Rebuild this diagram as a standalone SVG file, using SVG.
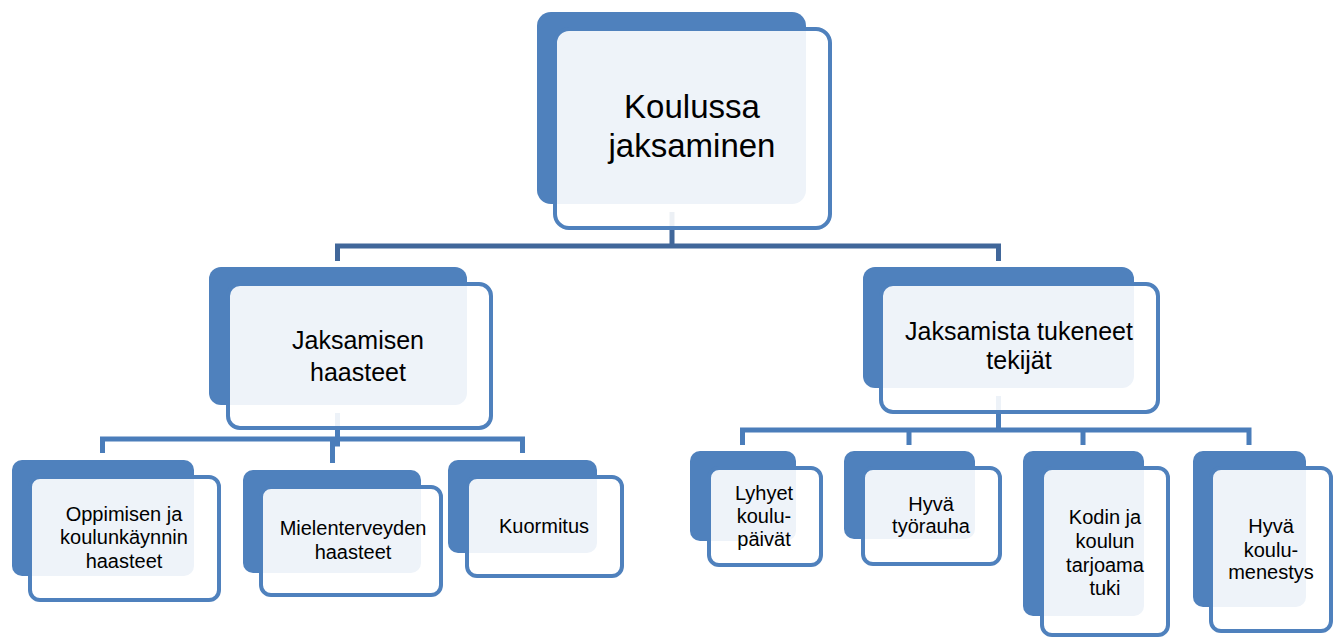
<svg xmlns="http://www.w3.org/2000/svg" width="1339" height="639" viewBox="0 0 1339 639">
<style>
.back{fill:#4F81BD}
.front{fill:#ffffff;fill-opacity:0.9;stroke:#4F81BD;stroke-width:4}
text{font-family:"Liberation Sans",Arial,sans-serif;fill:#000;text-anchor:middle}
.t1{font-size:33px}
.t2{font-size:25px}
.t3{font-size:20px}
.conn{fill:none;stroke:#4A7DBA;stroke-width:5}
.conn0{stroke:#41679A}
</style>
<rect width="1339" height="639" fill="#ffffff"/>
<g id="connectors">
  <path class="conn conn0" d="M672,212 V246 M337.5,261 V246 H998.5 V261"/>
  <path class="conn" d="M337.5,413 V439 M102.5,453 V439 H522.5 V453 M337.5,439 V444 H332.5 V463"/>
  <path class="conn" d="M998.5,396 V430 M742.5,445 V430 H1249 V445 M909,430 V445 M1083,430 V445"/>
</g>
<g id="n-koulussa">
  <rect class="back" x="537" y="12" width="269" height="192" rx="14"/>
  <rect class="front" x="555" y="29" width="275" height="199" rx="14"/>
  <text class="t1" x="692" y="118">Koulussa</text>
  <text class="t1" x="692" y="157">jaksaminen</text>
</g>
<g id="n-haasteet">
  <rect class="back" x="209" y="267" width="258" height="138" rx="12"/>
  <rect class="front" x="228" y="284" width="263" height="144" rx="12"/>
  <text class="t2" x="358" y="349">Jaksamisen</text>
  <text class="t2" x="358" y="381">haasteet</text>
</g>
<g id="n-tukeneet">
  <rect class="back" x="863" y="267" width="271" height="121" rx="12"/>
  <rect class="front" x="881" y="284" width="277" height="128" rx="12"/>
  <text class="t2" x="1019" y="340">Jaksamista tukeneet</text>
  <text class="t2" x="1019" y="369">tekijät</text>
</g>
<g id="n-oppimisen">
  <rect class="back" x="12" y="460" width="182" height="116" rx="10"/>
  <rect class="front" x="30" y="477" width="189" height="123" rx="10"/>
  <text class="t3" x="124" y="521">Oppimisen ja</text>
  <text class="t3" x="124" y="544">koulunkäynnin</text>
  <text class="t3" x="124" y="568">haasteet</text>
</g>
<g id="n-mielenterveyden">
  <rect class="back" x="243" y="470" width="178" height="103" rx="10"/>
  <rect class="front" x="261" y="487" width="180" height="108" rx="10"/>
  <text class="t3" x="353" y="535">Mielenterveyden</text>
  <text class="t3" x="353" y="559">haasteet</text>
</g>
<g id="n-kuormitus">
  <rect class="back" x="448" y="460" width="149" height="93" rx="10"/>
  <rect class="front" x="467" y="477" width="155" height="99" rx="10"/>
  <text class="t3" x="544" y="533">Kuormitus</text>
</g>
<g id="n-lyhyet">
  <rect class="back" x="690" y="451" width="106" height="90" rx="10"/>
  <rect class="front" x="709" y="468" width="112" height="97" rx="10"/>
  <text class="t3" x="764" y="500">Lyhyet</text>
  <text class="t3" x="764" y="523">koulu-</text>
  <text class="t3" x="764" y="546">päivät</text>
</g>
<g id="n-tyorauha">
  <rect class="back" x="844" y="451" width="131" height="88" rx="10"/>
  <rect class="front" x="863" y="468" width="137" height="96" rx="10"/>
  <text class="t3" x="931" y="511">Hyvä</text>
  <text class="t3" x="931" y="533">työrauha</text>
</g>
<g id="n-kodin">
  <rect class="back" x="1023" y="451" width="121" height="165" rx="10"/>
  <rect class="front" x="1042" y="468" width="126" height="167" rx="10"/>
  <text class="t3" x="1105" y="524">Kodin ja</text>
  <text class="t3" x="1105" y="548">koulun</text>
  <text class="t3" x="1105" y="572">tarjoama</text>
  <text class="t3" x="1105" y="595">tuki</text>
</g>
<g id="n-koulumenestys">
  <rect class="back" x="1193" y="451" width="113" height="156" rx="10"/>
  <rect class="front" x="1211" y="468" width="120" height="163" rx="10"/>
  <text class="t3" x="1271" y="533">Hyvä</text>
  <text class="t3" x="1271" y="557">koulu-</text>
  <text class="t3" x="1271" y="579">menestys</text>
</g>
</svg>
